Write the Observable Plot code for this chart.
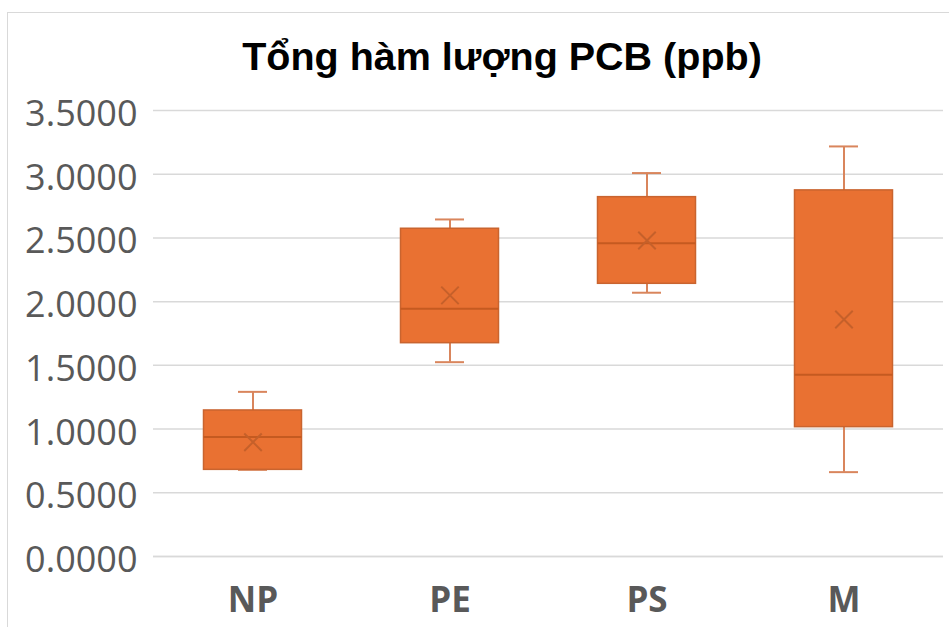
<!DOCTYPE html>
<html>
<head>
<meta charset="utf-8">
<script src="https://cdn.jsdelivr.net/npm/d3@7"></script>
<script src="https://cdn.jsdelivr.net/npm/@observablehq/plot@0.6"></script>
<style>
  html, body { margin: 0; padding: 0; background: #fff; overflow: hidden; }
  #wrap { position: relative; width: 949px; height: 627px; overflow: hidden; background: #fff; }
  #frame { position: absolute; left: 7px; top: 12px; width: 1000px; height: 700px; border: 1.5px solid #d9d9d9; box-sizing: border-box; }
  #title { position: absolute; left: 0; top: 37px; width: 1004px; text-align: center; font-family: "Liberation Sans", Arial, sans-serif; font-weight: bold; font-size: 39.5px; line-height: 39px; color: #000; }
  #chart { position: absolute; left: 0; top: 95px; }
</style>
</head>
<body>
<div id="wrap">
  <div id="frame"></div>
  <div id="title">Tổng hàm lượng PCB (ppb)</div>
  <div id="chart"></div>
</div>
<script>
const categories = ["NP", "PE", "PS", "M"];
const minVals    = [0.680, 1.525, 2.070, 0.662];
const q1Vals     = [0.680, 1.674, 2.140, 1.015];
const medianVals = [0.937, 1.944, 2.459, 1.426];
const q3Vals     = [1.146, 2.572, 2.820, 2.873];
const maxVals    = [1.292, 2.645, 3.009, 3.218];
const meanVals   = [0.897, 2.049, 2.480, 1.860];
const yTicks     = [0, 0.5, 1, 1.5, 2, 2.5, 3, 3.5];

const data = categories.map((c, i) => ({
  cat: c, min: minVals[i], q1: q1Vals[i], median: medianVals[i],
  q3: q3Vals[i], max: maxVals[i], mean: meanVals[i]
}));

const boxFill = "#E97132";
const boxStroke = "#C9642F";
const whisker = "#D9855C";
const textGray = "#595959";

const chart = Plot.plot({
  width: 949,
  height: 532,
  marginTop: 15,
  marginBottom: 71,
  marginLeft: 153,
  marginRight: 6,
  style: { fontFamily: "'Open Sans', sans-serif", background: "none", overflow: "visible" },
  x: { domain: categories, padding: 0, label: null },
  y: { domain: [0, 3.5], label: null },
  marks: [
    Plot.gridY(yTicks, { stroke: "#d9d9d9", strokeOpacity: 1, strokeWidth: 1.5 }),
    Plot.ruleX([0], { frameAnchor: "left", stroke: "#d9d9d9", strokeWidth: 1.5 }),
    Plot.ruleY([0], { stroke: "#d9d9d9", strokeWidth: 1.5 }),
    Plot.ruleX(data, { x: "cat", y1: "q3", y2: "max", stroke: whisker, strokeWidth: 2 }),
    Plot.ruleX(data, { x: "cat", y1: "min", y2: "q1", stroke: whisker, strokeWidth: 2 }),
    Plot.tickY(data, { x: "cat", y: "max", stroke: whisker, strokeWidth: 2, inset: 84 }),
    Plot.tickY(data, { x: "cat", y: "min", stroke: whisker, strokeWidth: 2, inset: 84 }),
    Plot.barY(data, { x: "cat", y1: "q1", y2: "q3", fill: boxFill, stroke: boxStroke, strokeWidth: 1.5, insetLeft: 49.5, insetRight: 49.5 }),
    Plot.tickY(data, { x: "cat", y: "median", stroke: "#C55A20", strokeWidth: 2, inset: 49.5 }),
    Plot.dot(data, { x: "cat", y: "mean", symbol: "times", r: 8, stroke: "#C5602A", strokeWidth: 2 }),
    Plot.axisY(yTicks, { tickSize: 0, tickPadding: 16, tickFormat: d3.format(".4f"), fontSize: 36, fill: textGray, dy: 4, label: null }),
    Plot.axisX({ tickSize: 0, tickPadding: 31, fontSize: 35, fontWeight: "bold", fill: textGray, label: null })
  ]
});
document.getElementById("chart").appendChild(chart);
</script>
</body>
</html>
